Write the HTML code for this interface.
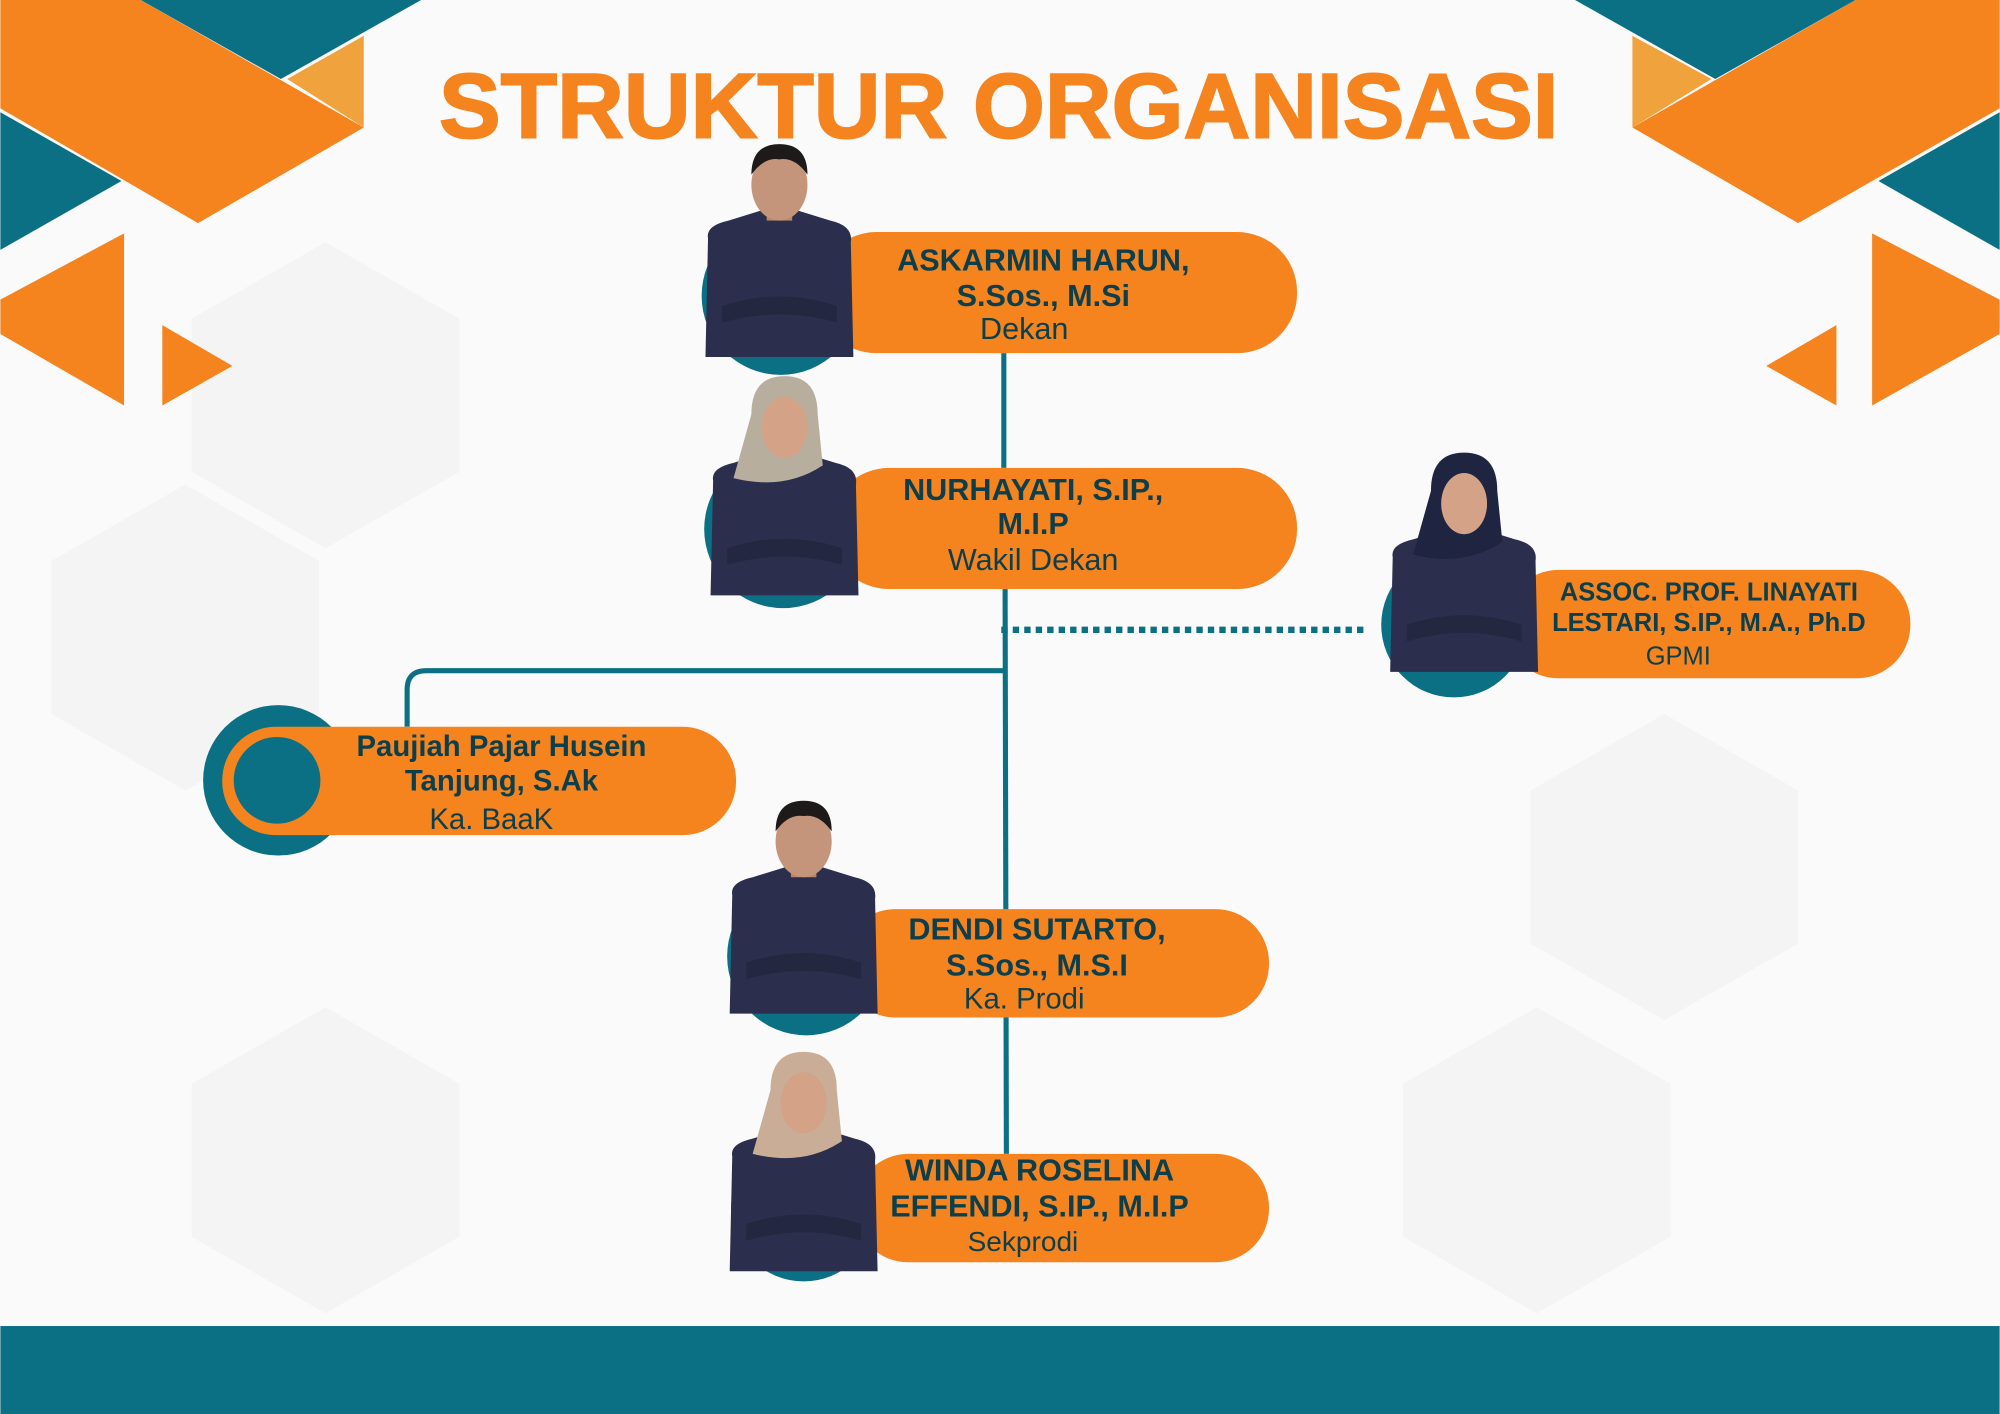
<!DOCTYPE html>
<html><head><meta charset="utf-8"><style>
html,body{margin:0;padding:0;background:#fafafa}
svg{display:block}
.b{font-family:"Liberation Sans",sans-serif;font-weight:bold;fill:#0c3f4b}
.r{font-family:"Liberation Sans",sans-serif;fill:#0c3f4b}
</style></head><body>
<svg width="2000" height="1414" viewBox="0 0 1568 1109" xmlns="http://www.w3.org/2000/svg">
<defs>
<g id="man">
<path d="M-56,42 Q-58,32 -40,28 L-14,20 L14,20 L40,28 Q58,32 56,45 L58,135 L-58,135 Z" fill="#2b2f4d"/>
<rect x="-10" y="10" width="20" height="18" fill="#b88866"/>
<ellipse cx="0" cy="0" rx="22" ry="28" fill="#c4957a"/>
<path d="M-22,-8 Q-22,-32 0,-32 Q22,-32 22,-8 Q12,-22 0,-20 Q-12,-22 -22,-8Z" fill="#1e1a1a"/>
<path d="M-45,95 Q0,80 45,95 L45,108 Q0,95 -45,108Z" fill="#23273f"/>
</g>
<g id="woman">
<path d="M-56,42 Q-58,32 -40,28 L-14,20 L14,20 L40,28 Q58,32 56,45 L58,132 L-58,132 Z" fill="#2b2f4d"/>
<path d="M-26,-10 Q-26,-40 0,-40 Q26,-40 26,-10 L30,30 Q0,50 -40,40 Z" fill="var(--h)"/>
<ellipse cx="0" cy="0" rx="18" ry="24" fill="#d3a287"/>
<path d="M-45,95 Q0,80 45,95 L45,108 Q0,95 -45,108Z" fill="#23273f"/>
</g>
</defs>
<rect width="1568" height="1109" fill="#fafafa"/>
<g fill="#f4f4f4">
<polygon points="150,250 255,190 360,250 360,370 255,430 150,370"/>
<polygon points="40,440 145,380 250,440 250,560 145,620 40,560"/>
<polygon points="1200,620 1305,560 1410,620 1410,740 1305,800 1200,740"/>
<polygon points="1100,850 1205,790 1310,850 1310,970 1205,1030 1100,970"/>
<polygon points="150,850 255,790 360,850 360,970 255,1030 150,970"/>
</g>
<polygon points="110,0 330,0 220,62" fill="#0b7083"/>
<polygon points="0,0 110,0 285,100 155,175 0,85" fill="#f5841f"/>
<polygon points="225,62 285,28 285,100" fill="#f0a23c"/>
<polygon points="0,88 95,142 0,196" fill="#0b7083"/>
<polygon points="0,235 97,183 97,318 0,262" fill="#f5841f"/>
<polygon points="127,255 127,318 182,287" fill="#f5841f"/>
<polygon points="1235,0 1455,0 1345,62" fill="#0b7083"/>
<polygon points="1455,0 1568,0 1568,85 1410,175 1280,100" fill="#f5841f"/>
<polygon points="1280,28 1342,62 1280,100" fill="#f0a23c"/>
<polygon points="1568,88 1473,142 1568,196" fill="#0b7083"/>
<polygon points="1568,235 1468,183 1468,318 1568,262" fill="#f5841f"/>
<polygon points="1440,255 1440,318 1385,287" fill="#f5841f"/>
<rect x="0" y="1040" width="1568" height="69" fill="#0b7083"/>
<text x="783" y="108" text-anchor="middle" font-family="Liberation Sans,sans-serif" font-weight="bold" font-size="72" fill="#f5841f" stroke="#f5841f" stroke-width="1.5" textLength="878" lengthAdjust="spacingAndGlyphs">STRUKTUR ORGANISASI</text>
<g stroke="#0b7083" stroke-width="4" fill="none">
<line x1="787" y1="277" x2="787" y2="367"/>
<line x1="788" y1="462" x2="789" y2="905"/>
<path d="M788,526 L334,526 Q319,526 319,541 L319,570"/>
<line x1="785" y1="494" x2="1070" y2="494" stroke-width="5" stroke-dasharray="5,4"/>
</g>
<circle cx="612" cy="232" r="62" fill="#0b7083"/>
<rect x="640" y="182" width="377" height="95" rx="47" fill="#f5841f"/>
<use href="#man" x="611" y="145"/>
<text class="b" font-size="24" x="818" y="212" text-anchor="middle">ASKARMIN HARUN,</text>
<text class="b" font-size="24" x="818" y="240" text-anchor="middle">S.Sos., M.Si</text>
<text class="r" font-size="24" x="803" y="266" text-anchor="middle">Dekan</text>
<circle cx="614" cy="415" r="62" fill="#0b7083"/>
<rect x="650" y="367" width="367" height="95" rx="47" fill="#f5841f"/>
<g style="--h:#b7ae9e"><use href="#woman" x="615" y="335"/></g>
<text class="b" font-size="24" x="810" y="392" text-anchor="middle">NURHAYATI, S.IP.,</text>
<text class="b" font-size="24" x="810" y="419" text-anchor="middle">M.I.P</text>
<text class="r" font-size="24" x="810" y="447" text-anchor="middle">Wakil Dekan</text>
<circle cx="1140" cy="490" r="57" fill="#0b7083"/>
<rect x="1180" y="447" width="318" height="85" rx="42" fill="#f5841f"/>
<g style="--h:#1f2440"><use href="#woman" x="1148" y="395"/></g>
<text class="b" font-size="20" x="1340" y="471" text-anchor="middle">ASSOC. PROF. LINAYATI</text>
<text class="b" font-size="20" x="1340" y="495" text-anchor="middle">LESTARI, S.IP., M.A., Ph.D</text>
<text class="r" font-size="20" x="1316" y="521" text-anchor="middle">GPMI</text>
<circle cx="218" cy="612" r="59" fill="#0b7083"/>
<rect x="174" y="570" width="403" height="85" rx="42" fill="#f5841f"/>
<circle cx="217" cy="612" r="34" fill="#0b7083"/>
<text class="b" font-size="23" x="393" y="593" text-anchor="middle">Paujiah Pajar Husein</text>
<text class="b" font-size="23" x="393" y="620" text-anchor="middle">Tanjung, S.Ak</text>
<text class="r" font-size="23" x="385" y="650" text-anchor="middle">Ka. BaaK</text>
<circle cx="632" cy="750" r="62" fill="#0b7083"/>
<rect x="660" y="713" width="335" height="85" rx="42" fill="#f5841f"/>
<use href="#man" x="630" y="660"/>
<text class="b" font-size="24" x="813" y="737" text-anchor="middle">DENDI SUTARTO,</text>
<text class="b" font-size="24" x="813" y="765" text-anchor="middle">S.Sos., M.S.I</text>
<text class="r" font-size="23" x="803" y="791" text-anchor="middle">Ka. Prodi</text>
<circle cx="630" cy="948" r="57" fill="#0b7083"/>
<rect x="670" y="905" width="325" height="85" rx="42" fill="#f5841f"/>
<g style="--h:#c9ad96"><use href="#woman" x="630" y="865"/></g>
<text class="b" font-size="24" x="815" y="926" text-anchor="middle">WINDA ROSELINA</text>
<text class="b" font-size="24" x="815" y="954" text-anchor="middle">EFFENDI, S.IP., M.I.P</text>
<text class="r" font-size="22" x="802" y="981" text-anchor="middle">Sekprodi</text>
</svg>
</body></html>
